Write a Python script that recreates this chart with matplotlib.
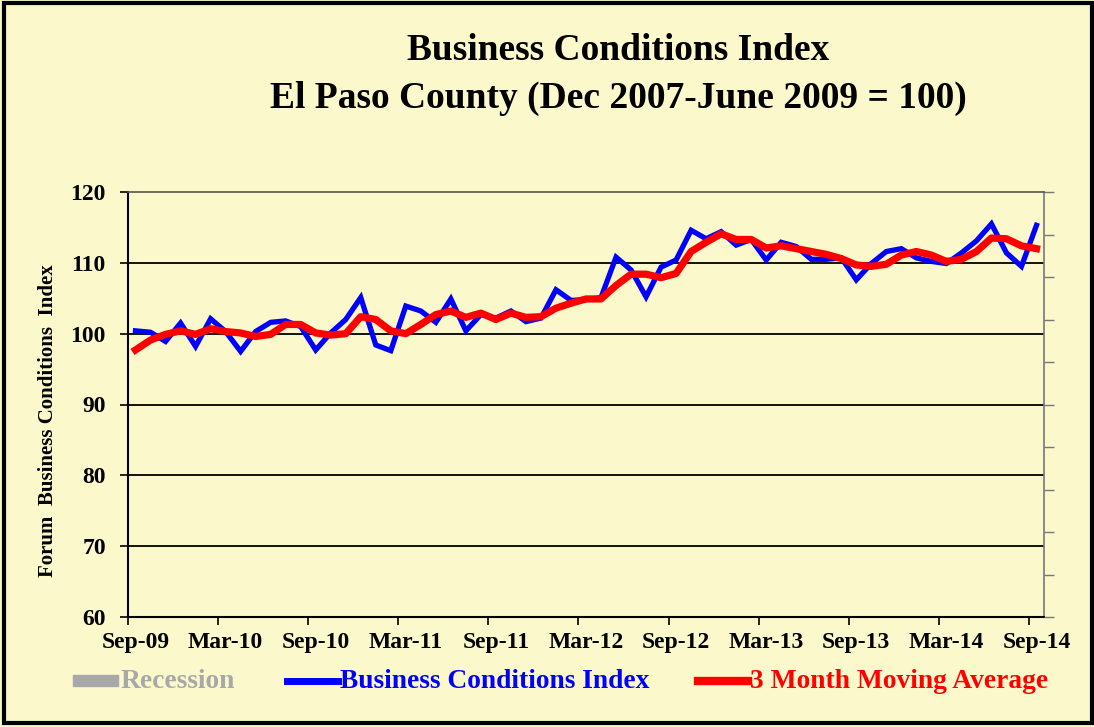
import numpy as np
import matplotlib
matplotlib.use("Agg")
import matplotlib.pyplot as plt
from matplotlib.lines import Line2D
from matplotlib.patches import Rectangle

# Data (monthly, Sep-09 .. Sep-14)
bci = [100.4, 100.2, 98.9, 101.5, 98.2, 102.1, 100.3, 97.5, 100.3, 101.6,
       101.8, 101.0, 97.7, 100.1, 102.0, 105.1, 98.4, 97.6, 103.9, 103.2,
       101.6, 104.9, 100.4, 102.7, 102.2, 103.2, 101.7, 102.2, 106.2, 104.7,
       104.8, 105.1, 110.8, 109.0, 105.2, 109.4, 110.4, 114.6, 113.4, 114.4,
       112.5, 113.3, 110.4, 112.9, 112.3, 110.5, 110.5, 110.7, 107.6, 109.9,
       111.6, 112.0, 110.7, 110.2, 109.9, 111.4, 113.1, 115.5, 111.4, 109.5,
       115.3]
ma3 = [97.7, 99.1, 99.9, 100.4, 99.9, 100.7, 100.3, 100.1, 99.6, 99.9,
       101.3, 101.3, 100.1, 99.8, 100.0, 102.4, 102.0, 100.4, 100.0, 101.3,
       102.7, 103.2, 102.3, 102.9, 102.0, 102.9, 102.3, 102.4, 103.6, 104.3,
       104.9, 104.9, 106.8, 108.4, 108.4, 107.9, 108.5, 111.6, 112.9, 114.1,
       113.3, 113.3, 112.1, 112.4, 112.0, 111.6, 111.2, 110.6, 109.7, 109.5,
       109.8, 111.1, 111.6, 111.1, 110.2, 110.5, 111.6, 113.5, 113.4, 112.4,
       112.0]
tick_labels = ["Sep-09", "Mar-10", "Sep-10", "Mar-11", "Sep-11", "Mar-12",
               "Sep-12", "Mar-13", "Sep-13", "Mar-14", "Sep-14"]
y_ticks = [60, 70, 80, 90, 100, 110, 120]

BG = "#FBF9CB"
FONT = "Liberation Serif"

fig = plt.figure(figsize=(10.94, 7.27), dpi=100, facecolor=BG)
ax = fig.add_axes([128 / 1094, 1 - 617 / 727, (1044 - 128) / 1094, (617 - 192) / 727])
ax.set_facecolor("none")

x = np.arange(len(bci))
ax.plot(x, bci, color="#0000FF", lw=3.8, solid_joinstyle="miter", zorder=3)
ax.plot(x, ma3, color="#FF0000", lw=5.2, solid_joinstyle="round", zorder=4)

ax.set_xlim(-0.5, len(bci) - 0.5)
ax.set_ylim(60, 120)

# labels centred on the category, tick marks between categories
ax.set_xticks(np.arange(0, len(bci), 6))
ax.set_xticklabels(tick_labels, fontfamily=FONT, fontweight="bold", fontsize=17)
ax.set_xticks(np.arange(0, len(bci), 6) - 0.5, minor=True)
ax.tick_params(axis="x", which="major", length=0, pad=11)
ax.tick_params(axis="x", which="minor", length=6, width=1.2, color="black")

ax.set_yticks(y_ticks)
ax.set_yticklabels([str(v) for v in y_ticks], fontfamily=FONT,
                   fontweight="bold", fontsize=17)
ax.tick_params(axis="y", length=6, width=1.2, color="black", pad=10)

for v in y_ticks[1:-1]:
    ax.axhline(v, color="black", lw=1.3, zorder=1)

ax.spines["left"].set_linewidth(1.5)
ax.spines["bottom"].set_linewidth(1.5)
ax.spines["top"].set_color("#555555")
ax.spines["top"].set_linewidth(1.2)
ax.spines["right"].set_color("#777777")
ax.spines["right"].set_linewidth(1.2)

# right-hand axis with unlabeled ticks
ax2 = ax.twinx()
ax2.set_ylim(60, 120)
ax2.set_yticks(np.linspace(60, 120, 11))
ax2.set_yticklabels([])
ax2.tick_params(axis="y", length=7, width=1.0, color="#777777")
for s in ax2.spines.values():
    s.set_visible(False)

fig.text(48 / 1094, 1 - 421 / 727, "Forum  Business Conditions  Index",
         rotation=90, ha="center", va="center", fontfamily=FONT,
         fontweight="bold", fontsize=15)

fig.text(0.565, 1 - 51 / 727, "Business Conditions Index", ha="center",
         va="center", fontfamily=FONT, fontweight="bold", fontsize=27)
fig.text(0.565, 1 - 98 / 727, "El Paso County (Dec 2007-June 2009 = 100)",
         ha="center", va="center", fontfamily=FONT, fontweight="bold",
         fontsize=27)

# legend row at the bottom
ly = 1 - 681 / 727
fig.patches.append(Rectangle((73 / 1094, ly - 5 / 727), 45 / 1094, 11 / 727,
                             transform=fig.transFigure, color="#A8A8A8"))
fig.text(121 / 1094, ly, "Recession", ha="left", va="center", color="#A8A8A8",
         fontfamily=FONT, fontweight="bold", fontsize=19.8)
fig.lines.append(Line2D([287 / 1094, 338 / 1094], [ly, ly], color="#0000FF",
                        lw=5, transform=fig.transFigure))
fig.text(340 / 1094, ly, "Business Conditions Index", ha="left", va="center",
         color="#0000FF", fontfamily=FONT, fontweight="bold", fontsize=19.8)
fig.lines.append(Line2D([698 / 1094, 748 / 1094], [ly, ly], color="#FF0000",
                        lw=6, transform=fig.transFigure))
fig.text(750 / 1094, ly, "3 Month Moving Average", ha="left", va="center",
         color="#FF0000", fontfamily=FONT, fontweight="bold", fontsize=19.8)

# outer frame
fig.patches.append(Rectangle((0.004, 0.006), 0.994, 0.99, fill=False,
                             lw=3, edgecolor="black", transform=fig.transFigure))

fig.savefig("out.png", dpi=100, facecolor=BG)
